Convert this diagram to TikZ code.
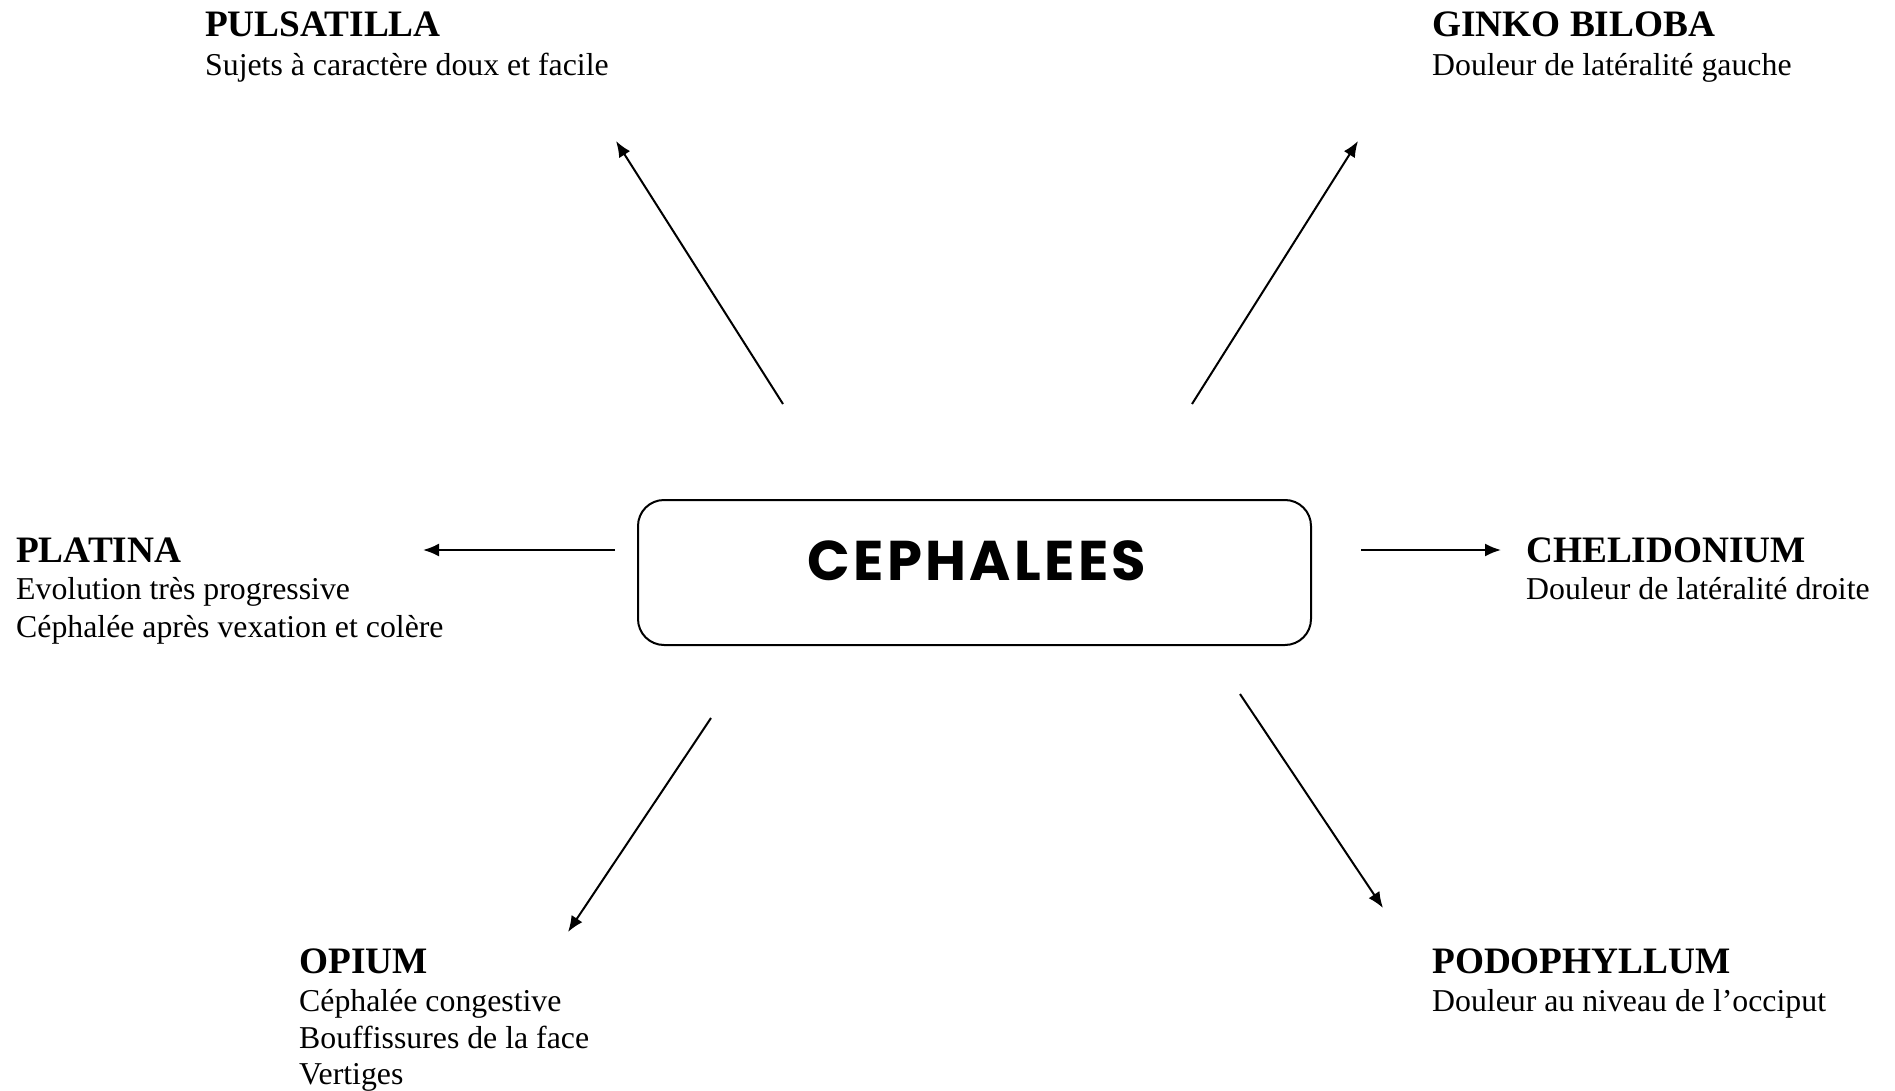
\documentclass[tikz,border=0pt]{standalone}
\usepackage{fontspec}
\setmainfont{Liberation Serif}
\newfontfamily\cephfont[LetterSpace=6]{Poppins}
\usetikzlibrary{arrows.meta}
\begin{document}
\begin{tikzpicture}[x=1pt,y=-1pt,
  ttl/.style={anchor=base west, inner sep=0pt, font=\fontsize{37.3}{40}\selectfont\bfseries},
  txt/.style={anchor=base west, inner sep=0pt, font=\fontsize{31.8}{38}\selectfont},
  arr/.style={line width=2pt, -{Latex[length=16pt,width=13pt]}},
  mainbox/.style={draw, line width=2pt, rounded corners=26pt, minimum width=673pt, minimum height=145pt, inner sep=0pt}]
\useasboundingbox (0,0) rectangle (1895,1091);
% central box
\node[mainbox] (box) at (974.5,572.5) {};
\node[inner sep=0pt, font=\cephfont\bfseries\fontsize{56}{60}\selectfont] (ceph) at (977,561) {CEPHALEES};
% labels
\node[ttl] (pul) at (205,37) {PULSATILLA};
\node[txt] (pul1) at (205,76) {Sujets à caractère doux et facile};
\node[ttl] (gin) at (1432,37) {GINKO BILOBA};
\node[txt] (gin1) at (1432,76) {Douleur de latéralité gauche};
\node[ttl] (pla) at (16,562) {PLATINA};
\node[txt] (pla1) at (16,599) {Evolution très progressive};
\node[txt] (pla2) at (16,637) {Céphalée après vexation et colère};
\node[ttl] (che) at (1526,562) {CHELIDONIUM};
\node[txt] (che1) at (1526,599) {Douleur de latéralité droite};
\node[ttl] (opi) at (299,973) {OPIUM};
\node[txt] (opi1) at (299,1011) {Céphalée congestive};
\node[txt] (opi2) at (299,1048) {Bouffissures de la face};
\node[txt] (opi3) at (299,1084) {Vertiges};
\node[ttl] (pod) at (1432,973) {PODOPHYLLUM};
\node[txt] (pod1) at (1432,1011) {Douleur au niveau de l’occiput};
% arrow end points
\coordinate (a1s) at (783,404);  \coordinate (a1e) at (616,141);
\coordinate (a2s) at (1192,404); \coordinate (a2e) at (1358,141);
\coordinate (a3s) at (615,550);  \coordinate (a3e) at (423,550);
\coordinate (a4s) at (1361,550); \coordinate (a4e) at (1501,550);
\coordinate (a5s) at (711,718);  \coordinate (a5e) at (568,932);
\coordinate (a6s) at (1240,694); \coordinate (a6e) at (1383,908);
\draw[arr] (a1s) -- (a1e);
\draw[arr] (a2s) -- (a2e);
\draw[arr] (a3s) -- (a3e);
\draw[arr] (a4s) -- (a4e);
\draw[arr] (a5s) -- (a5e);
\draw[arr] (a6s) -- (a6e);
\end{tikzpicture}
\end{document}
